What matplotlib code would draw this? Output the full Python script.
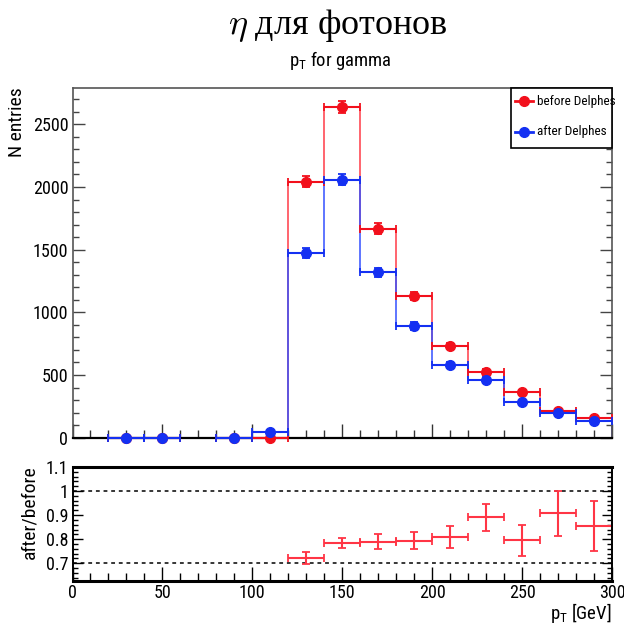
import numpy as np
import matplotlib
matplotlib.use("Agg")
import matplotlib.pyplot as plt
from matplotlib.ticker import MultipleLocator
from matplotlib.lines import Line2D
from matplotlib.patches import Rectangle
from matplotlib import font_manager

# ---------------- data ----------------
bin_edges = [0, 20, 40, 60, 80, 100, 120, 140, 160, 180, 200, 220, 240, 260, 280, 300]
before_counts = [0, 0, 0, 0, 0, 0, 2042, 2638, 1668, 1130, 732, 523, 363, 214, 155]
before_errors = [0, 0, 0, 0, 0, 0, 45, 51, 41, 34, 27, 23, 19, 15, 12]
after_counts = [0, 0, 0, 0, 0, 48, 1472, 2059, 1320, 892, 582, 462, 283, 195, 136]
after_errors = [0, 0, 0, 0, 0, 7, 38, 45, 36, 30, 24, 21, 17, 14, 12]
# bins in which a marker is drawn (bins holding entries)
before_marked = [0, 1, 1, 0, 1, 1, 1, 1, 1, 1, 1, 1, 1, 1, 1]
after_marked = [0, 1, 1, 0, 1, 1, 1, 1, 1, 1, 1, 1, 1, 1, 1]

ratio_centers = [130, 150, 170, 190, 210, 230, 250, 270, 290]
ratio_values = [0.722, 0.784, 0.790, 0.794, 0.809, 0.891, 0.795, 0.908, 0.853]
ratio_errors = [0.025, 0.021, 0.031, 0.036, 0.047, 0.057, 0.065, 0.093, 0.104]
ratio_halfwidth = 10

main_yticks = [0, 500, 1000, 1500, 2000, 2500]
ratio_yticks = [0.7, 0.8, 0.9, 1.0, 1.1]
ratio_yticklabels = ["0.7", "0.8", "0.9", "1", "1.1"]
xticks = [0, 50, 100, 150, 200, 250, 300]
ref_lines = [1.0, 0.7]

title = r"$\mathit{\eta}$ для фотонов"
subtitle = r"p$_\mathrm{T}$ for gamma"
xlabel = r"p$_\mathrm{T}$ [GeV]"
legend_labels = ["before Delphes", "after Delphes"]

RED = "#f2101c"
BLUE = "#1430f2"
RED_LINE = "#ff3a46"
BLUE_LINE = "#3350ff"

names = {f.name for f in font_manager.fontManager.ttflist}
SANS = "Liberation Sans"
TS, LS, AXL, LEG = 11.5, 12.5, 12.5, 8.0
for cand in ["Liberation Sans Narrow", "Arial Narrow", "Roboto Condensed"]:
    if cand in names:
        SANS = cand
        TS, LS, AXL, LEG = 13, 13.5, 14, 9.5
        break

plt.rcParams["font.family"] = [SANS, "DejaVu Sans"]
plt.rcParams["mathtext.fontset"] = "custom"
plt.rcParams["mathtext.rm"] = SANS
plt.rcParams["mathtext.it"] = SANS + ":italic"
plt.rcParams["mathtext.default"] = "regular"

W, H = 624, 627
fig = plt.figure(figsize=(W / 100, H / 100), dpi=100)

def frac_rect(x0, y0, x1, y1):
    return [x0 / W, 1 - y1 / H, (x1 - x0) / W, (y1 - y0) / H]

ax = fig.add_axes(frac_rect(72.5, 88, 612, 437.7))
axr = fig.add_axes(frac_rect(72.5, 467, 612, 581))

edges = np.array(bin_edges, dtype=float)
centers = 0.5 * (edges[:-1] + edges[1:])
halfw = 0.5 * (edges[1:] - edges[:-1])

def draw_series(counts, errs, marked, col, lcol):
    counts = np.array(counts, float)
    errs = np.array(errs, float)
    m = np.array(marked, bool)
    ax.stairs(counts, edges, color=lcol, lw=1.1, baseline=0, zorder=2)
    ax.errorbar(centers[m], counts[m], xerr=halfw[m], yerr=errs[m], fmt="o",
                color=col, ms=7, elinewidth=1.5, capsize=2.8, capthick=1.3,
                zorder=3, clip_on=False)

draw_series(before_counts, before_errors, before_marked, RED, RED_LINE)
draw_series(after_counts, after_errors, after_marked, BLUE, BLUE_LINE)

ax.set_xlim(0, 300)
ax.set_ylim(0, 2790)
ax.set_yticks(main_yticks)
ax.yaxis.set_minor_locator(MultipleLocator(100))
ax.set_xticks(xticks)
ax.xaxis.set_minor_locator(MultipleLocator(10))
ax.tick_params(axis="x", which="both", direction="in", top=False, bottom=True,
               labelbottom=False)
ax.tick_params(axis="x", which="major", length=10, width=1, color="#333333")
ax.tick_params(axis="x", which="minor", length=5.5, width=1, color="#333333")
ax.tick_params(axis="y", which="both", direction="in", left=True, right=True,
               labelsize=TS, pad=3)
ax.tick_params(axis="y", which="major", length=8.5, width=1, color="#444444")
ax.tick_params(axis="y", which="minor", length=4.5, width=1, color="#444444")
for s in ["top", "right", "left"]:
    ax.spines[s].set_color("#555555")
    ax.spines[s].set_linewidth(1.2)
ax.spines["bottom"].set_color("black")
ax.spines["bottom"].set_linewidth(1.6)

# legend box
AW, AH = 539.5, 349.7
lx0, ly0 = (511 - 72.5) / AW, (437.7 - 148) / AH
ax.add_patch(Rectangle((lx0, ly0), 1 - lx0, 1 - ly0, transform=ax.transAxes,
                       fill=True, facecolor="white", edgecolor="black", lw=1.2,
                       zorder=5, clip_on=False))
for i, (lab, col) in enumerate(zip(legend_labels, [RED, BLUE])):
    yy = 1 - (13 + 31 * i) / AH
    ax.add_line(Line2D([lx0 + 4 / AW, lx0 + 22 / AW], [yy, yy], transform=ax.transAxes,
                       color=col, lw=2, zorder=6))
    ax.add_line(Line2D([lx0 + 13 / AW], [yy], transform=ax.transAxes, color=col,
                       marker="o", ms=7, zorder=6))
    ax.text(lx0 + 26 / AW, yy, lab, transform=ax.transAxes, fontsize=LEG,
            va="center", ha="left", zorder=6)

# ratio panel
axr.errorbar(ratio_centers, ratio_values, xerr=ratio_halfwidth, yerr=ratio_errors,
             fmt="none", ecolor="#ff3545", elinewidth=1.5, capsize=2.8, capthick=1.3)
for v in ref_lines:
    axr.axhline(v, color="black", lw=1.1, ls=(0, (2.5, 2.5)), zorder=1)
axr.set_xlim(0, 300)
axr.set_ylim(0.626, 1.1)
axr.set_yticks(ratio_yticks)
axr.set_yticklabels(ratio_yticklabels)
axr.yaxis.set_minor_locator(MultipleLocator(0.02))
axr.set_xticks(xticks)
axr.xaxis.set_minor_locator(MultipleLocator(10))
axr.tick_params(axis="x", which="both", direction="in", top=False, bottom=True,
                labelsize=TS, pad=2)
axr.tick_params(axis="x", which="major", length=10, width=1)
axr.tick_params(axis="x", which="minor", length=5.5, width=1)
axr.tick_params(axis="y", which="both", direction="in", left=True, right=True,
                labelsize=TS, pad=3)
axr.tick_params(axis="y", which="major", length=7, width=1)
axr.tick_params(axis="y", which="minor", length=3.5, width=1)
for s in ["top", "bottom"]:
    axr.spines[s].set_linewidth(2.2)
for s in ["left", "right"]:
    axr.spines[s].set_linewidth(1.4)

# texts
fig.text(338 / W, 1 - 26 / H, title, ha="center", va="center", fontsize=26,
         family=["Liberation Serif", "DejaVu Serif"],
         math_fontfamily="cm")
fig.text(340 / W, 1 - 60 / H, subtitle, ha="center", va="center", fontsize=LS)
fig.text(17 / W, 1 - 122 / H, "N entries", rotation=90, ha="center", va="center",
         fontsize=AXL)
fig.text(29 / W, 1 - 512 / H, "after/before", rotation=90, ha="center",
         va="center", fontsize=AXL)
fig.text(612 / W, 1 - 619 / H, xlabel, ha="right", va="baseline", fontsize=LS)

fig.savefig("out.png", dpi=100)
